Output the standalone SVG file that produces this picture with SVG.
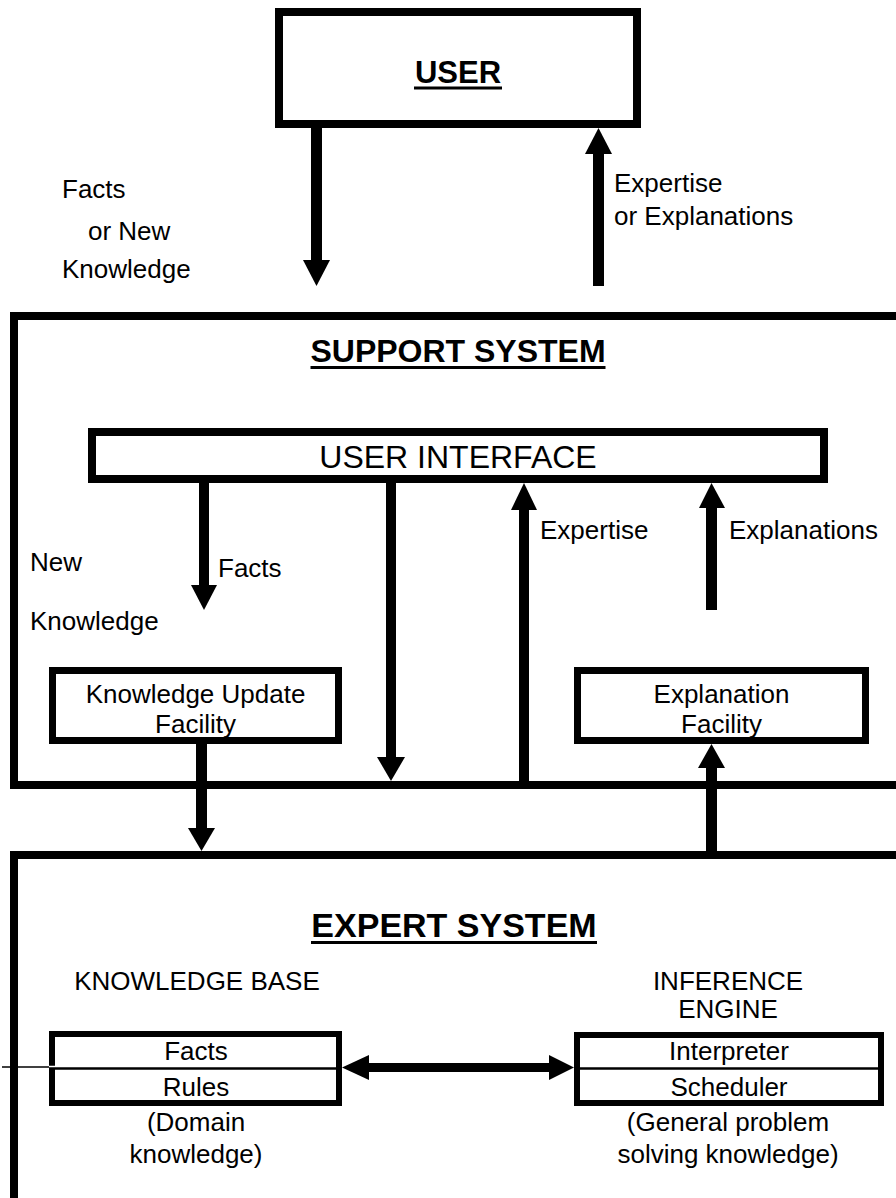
<svg xmlns="http://www.w3.org/2000/svg" width="896" height="1198" viewBox="0 0 896 1198">
<style>
.box{fill:none;stroke:#000;stroke-width:8}
.sbox{fill:none;stroke:#000;stroke-width:7}
.t{font-family:"Liberation Sans",Arial,sans-serif;font-size:26px;fill:#000}
.m{text-anchor:middle}
.b{font-weight:bold}
.sh{stroke:#000;stroke-width:11}
.hd{fill:#000}
</style>
<rect width="896" height="1198" fill="#fff"/>
<g id="user">
<rect class="box" x="279" y="12" width="358" height="112"/>
<text class="t m b" x="458" y="83" style="font-size:31px">USER</text>
<rect x="414" y="86.5" width="88" height="3" fill="#000"/>
</g>
<g id="support-system">
<rect class="box" x="14" y="316" width="920" height="469"/>
<text class="t m b" x="458" y="362" style="font-size:32px">SUPPORT SYSTEM</text>
<rect x="310.5" y="366" width="295" height="3" fill="#000"/>
</g>
<g id="user-interface">
<rect class="box" x="92" y="432" width="732" height="47" fill="#fff"/>
<text class="t m" x="458" y="468" style="font-size:32px">USER INTERFACE</text>
</g>
<g id="knowledge-update-facility">
<rect class="sbox" x="52.5" y="670.5" width="286" height="70"/>
<text class="t m" x="195.5" y="703">Knowledge Update</text>
<text class="t m" x="195.5" y="733">Facility</text>
</g>
<g id="explanation-facility">
<rect class="sbox" x="577.5" y="670.5" width="288" height="70"/>
<text class="t m" x="721.5" y="703">Explanation</text>
<text class="t m" x="721.5" y="733">Facility</text>
</g>
<g id="expert-system">
<rect class="box" x="14" y="855" width="920" height="420"/>
<text class="t m b" x="454" y="937" style="font-size:34px">EXPERT SYSTEM</text>
<rect x="311" y="941" width="286" height="3" fill="#000"/>
<line x1="2" y1="1067" x2="49" y2="1067" stroke="#000" stroke-width="1.5"/>
</g>
<g id="knowledge-base">
<text class="t m" x="197" y="990">KNOWLEDGE BASE</text>
<rect x="52" y="1034" width="287" height="69" fill="none" stroke="#000" stroke-width="6"/>
<line x1="49" y1="1068.5" x2="342" y2="1068.5" stroke="#000" stroke-width="2.5"/>
<line x1="49" y1="1066.5" x2="55" y2="1066.5" stroke="#fff" stroke-width="1.5"/>
<text class="t m" x="196" y="1060">Facts</text>
<text class="t m" x="196" y="1096">Rules</text>
<text class="t m" x="196" y="1131">(Domain</text>
<text class="t m" x="196" y="1163">knowledge)</text>
</g>
<g id="inference-engine">
<text class="t m" x="728" y="990">INFERENCE</text>
<text class="t m" x="728" y="1018">ENGINE</text>
<rect x="577" y="1035" width="304" height="68" fill="none" stroke="#000" stroke-width="6"/>
<line x1="574" y1="1068.5" x2="884" y2="1068.5" stroke="#000" stroke-width="2.5"/>
<text class="t m" x="729" y="1060">Interpreter</text>
<text class="t m" x="729" y="1096">Scheduler</text>
<text class="t m" x="728" y="1131">(General problem</text>
<text class="t m" x="728" y="1163">solving knowledge)</text>
</g>
<g id="connectors">
<line class="sh" x1="316.5" y1="128" x2="316.5" y2="261"/>
<polygon class="hd" points="303,260 330,260 316.5,286"/>
<line class="sh" x1="598.5" y1="286" x2="598.5" y2="153"/>
<polygon class="hd" points="585,154 612,154 598.5,128"/>
<line class="sh" x1="204" y1="483" x2="204" y2="586" style="stroke-width:10"/>
<polygon class="hd" points="191,585 217,585 204,610"/>
<line class="sh" x1="391" y1="483" x2="391" y2="758" style="stroke-width:10"/>
<polygon class="hd" points="377,757 405,757 391,781"/>
<line class="sh" x1="524" y1="781" x2="524" y2="509" style="stroke-width:10"/>
<polygon class="hd" points="511,510 537,510 524,483"/>
<line class="sh" x1="711.5" y1="610" x2="711.5" y2="507"/>
<polygon class="hd" points="699,508 725,508 711.5,483"/>
<line class="sh" x1="201.5" y1="744" x2="201.5" y2="829"/>
<polygon class="hd" points="188,828 215,828 201.5,851"/>
<line class="sh" x1="711.5" y1="851" x2="711.5" y2="767"/>
<polygon class="hd" points="698,768 725,768 711.5,744"/>
<line class="sh" x1="368" y1="1067.5" x2="550" y2="1067.5" style="stroke-width:9"/>
<polygon class="hd" points="369,1055 369,1080 342,1067.5"/>
<polygon class="hd" points="549,1055 549,1080 574,1067.5"/>
</g>
<g id="labels" class="t">
<text class="t" x="62" y="198">Facts</text>
<text class="t" x="88" y="240">or New</text>
<text class="t" x="62" y="278">Knowledge</text>
<text class="t" x="614" y="192">Expertise</text>
<text class="t" x="614" y="225">or Explanations</text>
<text class="t" x="30" y="571">New</text>
<text class="t" x="30" y="630">Knowledge</text>
<text class="t" x="218" y="577">Facts</text>
<text class="t" x="540" y="539">Expertise</text>
<text class="t" x="729" y="539">Explanations</text>
</g>
</svg>
